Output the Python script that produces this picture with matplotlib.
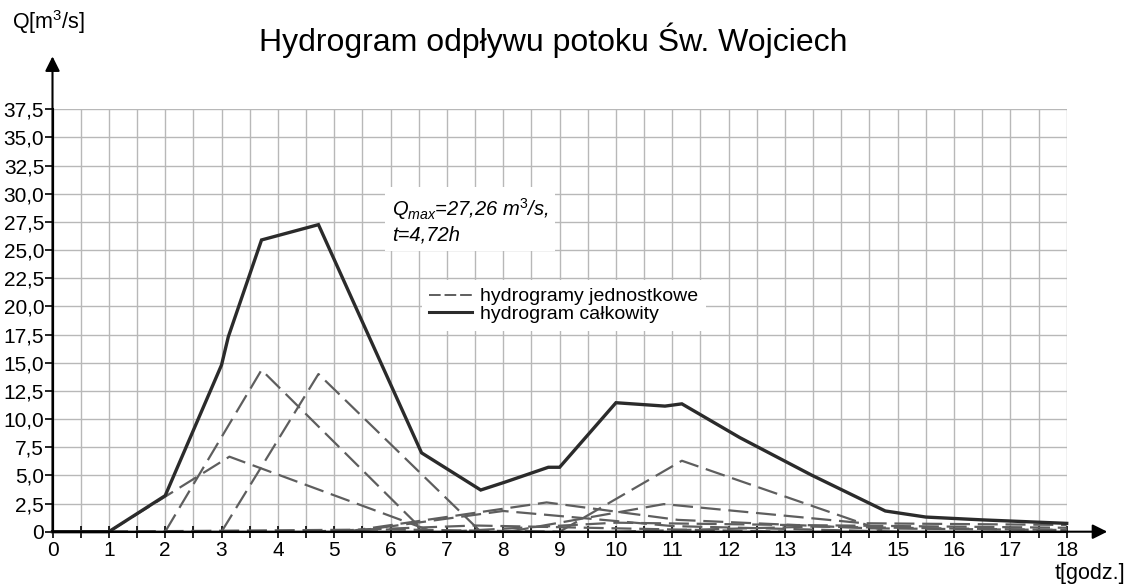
import matplotlib
matplotlib.use("Agg")
import matplotlib.pyplot as plt
from matplotlib.lines import Line2D
import numpy as np

plt.rcParams['font.family'] = ['Liberation Sans', 'DejaVu Sans']
plt.rcParams['mathtext.fontset'] = 'custom'
plt.rcParams['mathtext.rm'] = 'Liberation Sans'
plt.rcParams['mathtext.it'] = 'Liberation Sans:italic'

# ---- data ----
title = "Hydrogram odpływu potoku Św. Wojciech"
y_label = "Q[m$^3$/s]"
x_label = "t[godz.]"
legend_labels = ["hydrogramy jednostkowe", "hydrogram całkowity"]
annot = "$Q_{max}$=27,26 m$^3$/s,\nt=4,72h"

x_ticks = list(range(0, 19))
y_ticks = [0, 2.5, 5, 7.5, 10, 12.5, 15, 17.5, 20, 22.5, 25, 27.5, 30, 32.5, 35, 37.5]
y_tick_labels = ["0", "2,5", "5,0", "7,5", "10,0", "12,5", "15,0", "17,5", "20,0",
                 "22,5", "25,0", "27,5", "30,0", "32,5", "35,0", "37,5"]

# total hydrograph
t_total = [0, 1, 2, 3, 3.12, 3.71, 4.72, 6.55, 7.6, 8.03, 8.8, 9.0, 10.0, 10.87, 11.17,
           12.2, 13.47, 14.78, 15.5, 16.5, 18]
q_total = [0, 0, 3.2, 14.8, 17.3, 25.9, 27.26, 7.0, 3.7, 4.4, 5.72, 5.72, 11.45, 11.15, 11.35,
           8.35, 5.03, 1.84, 1.3, 1.05, 0.74]

# unit hydrographs
uh1_t = [1.0, 3.14, 6.75];          uh1_q = [0, 6.66, 0]
uh2_t = [2.0, 3.71, 6.6];           uh2_q = [0, 14.36, 0]
uh3_t = [3.0, 4.72, 7.6];           uh3_q = [0, 14.0, 0]
uh4_t = [5.3, 8.0, 11.0, 15.0];     uh4_q = [0, 1.84, 0.5, 0]
uh5_t = [5.2, 8.77, 11.1, 14.5, 18]; uh5_q = [0, 2.6, 1.05, 0.3, 0.15]
uh6_t = [8.1, 10.85, 14.4, 18];     uh6_q = [0, 2.45, 0.75, 0.6]
uh7_t = [9.0, 11.17, 14.8];         uh7_q = [0, 6.3, 0]
uh8_t = [4.5, 7.5, 9.5, 13.0];      uh8_q = [0, 0.55, 0.35, 0]
uh9_t = [7.0, 10.0, 13.0, 18];      uh9_q = [0, 0.8, 0.6, 0.35]
uh10_t = [0, 2.0, 6.0, 9.0];        uh10_q = [0, 0.05, 0.2, 0]
uh11_t = [10.0, 13.5, 18];          uh11_q = [0, 0.45, 0.15]

unit_hydrographs = [(uh1_t, uh1_q), (uh2_t, uh2_q), (uh3_t, uh3_q), (uh4_t, uh4_q),
                    (uh5_t, uh5_q), (uh6_t, uh6_q), (uh7_t, uh7_q), (uh8_t, uh8_q),
                    (uh9_t, uh9_q), (uh10_t, uh10_q), (uh11_t, uh11_q)]

# ---- figure ----
W, H = 1129, 587
fig = plt.figure(figsize=(W / 100, H / 100), dpi=100)
x0, x1 = 52.5, 1066.7
y0, y1 = 531.7, 109.3
ax = fig.add_axes([x0 / W, 1 - y0 / H, (x1 - x0) / W, (y0 - y1) / H])
ax.set_xlim(0, 18)
ax.set_ylim(0, 37.5)

ax.set_xticks(x_ticks)
ax.set_xticks(np.arange(0, 18.01, 0.5), minor=True)
ax.set_yticks(y_ticks)
ax.set_yticklabels(y_tick_labels)
ax.grid(True, which='both', color='#b8b8b8', lw=1.0)
ax.set_axisbelow(True)
for s in ['top', 'right']:
    ax.spines[s].set_visible(False)
ax.spines['left'].set_linewidth(1.5)
ax.spines['bottom'].set_linewidth(1.5)
ax.tick_params(axis='x', which='both', direction='inout', length=8, width=1.2,
               labelsize=15, pad=3)
ax.tick_params(axis='y', which='major', direction='out', length=6, width=1.2,
               labelsize=15, pad=0)

dash_color = '#5e5e5e'
for t, q in unit_hydrographs:
    ax.plot(t, q, color=dash_color, lw=1.6, linestyle=(0, (9, 3.5)), clip_on=False)
ax.plot(t_total, q_total, color='#2b2b2b', lw=2.4, solid_joinstyle='miter', clip_on=False)

# axis arrows
ax.annotate('', xy=(18.72, 0), xytext=(0, 0), annotation_clip=False,
            arrowprops=dict(arrowstyle='-|>', color='black', lw=1.5,
                            mutation_scale=22, shrinkA=0, shrinkB=0))
ax.annotate('', xy=(0, 42.2), xytext=(0, 0), annotation_clip=False,
            arrowprops=dict(arrowstyle='-|>', color='black', lw=1.5,
                            mutation_scale=22, shrinkA=0, shrinkB=0))

# annotation box
ax.text(6.02, 27.65, annot, fontsize=14.5, style='italic', va='center', ha='left',
        linespacing=1.2,
        bbox=dict(facecolor='white', edgecolor='none', pad=5))

# legend
handles = [Line2D([], [], color=dash_color, lw=1.4, linestyle=(0, (6, 2))),
           Line2D([], [], color='#2b2b2b', lw=2.2)]
leg = ax.legend(handles, legend_labels, loc='upper left',
                bbox_to_anchor=(6.38 / 18, 23.2 / 37.5), fontsize=14,
                frameon=True, fancybox=False, framealpha=1, edgecolor='none',
                handlelength=2.2, handletextpad=0.4, borderpad=0.4,
                labelspacing=0.0)

fig.text(553 / W, 1 - 40 / H, title, fontsize=23, ha='center', va='center')
fig.text(12 / W, 1 - 22 / H, y_label, fontsize=15.5, ha='left', va='center')
fig.text(1125 / W, 1 - 574 / H, x_label, fontsize=15.5, ha='right', va='center')

fig.savefig('out.png', dpi=100)
